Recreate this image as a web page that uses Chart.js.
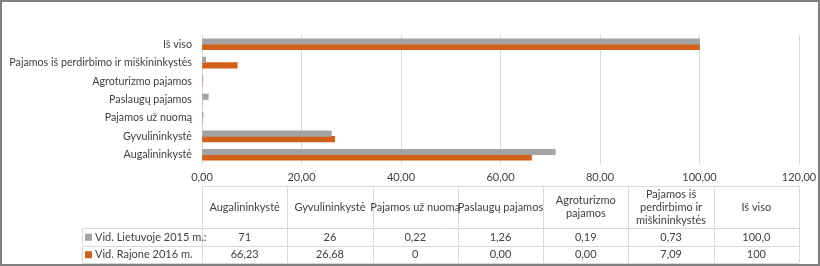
<!DOCTYPE html>
<html>
<head>
<meta charset="utf-8">
<script src="https://cdn.jsdelivr.net/npm/chart.js@4.4.1/dist/chart.umd.min.js"></script>
<style>
  body { margin: 0; background: #fff; }
  canvas { display: block; }
</style>
</head>
<body>
<canvas id="chart" width="820" height="266"></canvas>
<script>
// Kategorijos (pirmoji apačioje, kaip Excel)
const categories = ['Augalininkystė', 'Gyvulininkystė', 'Pajamos už nuomą', 'Paslaugų pajamos',
                    'Agroturizmo pajamos', 'Pajamos iš perdirbimo ir miškininkystės', 'Iš viso'];
// Lentelės antraštės (su eilučių laužymu)
const tableHeaders = ['Augalininkystė', 'Gyvulininkystė', 'Pajamos už nuomą', 'Paslaugų pajamos',
                      'Agroturizmo\npajamos', 'Pajamos iš\nperdirbimo ir\nmiškininkystės', 'Iš viso'];
const seriesNames = ['Vid. Lietuvoje 2015 m.:', 'Vid. Rajone 2016 m.'];
// Reikšmės taip, kaip parašyta lentelėje
const lietuvaLabels = ['71', '26', '0,22', '1,26', '0,19', '0,73', '100,0'];
const rajonasLabels = ['66,23', '26,68', '0', '0,00', '0,00', '7,09', '100'];
const xTicks = [0, 20, 40, 60, 80, 100, 120];
const colors = ['#A3A3A3', '#D2601A'];

const toNum = s => parseFloat(s.replace(',', '.'));
const FONT = 'Lato, "Open Sans", sans-serif';
const TEXT = '#404040';

// Duomenų lentelė po grafiku
const dataTablePlugin = {
    id: 'dataTable',
    beforeDraw(chart) {
        const c = chart.ctx;
        c.save();
        c.fillStyle = '#fff';
        c.fillRect(0, 0, chart.width, chart.height);
        c.restore();
    },
    afterDraw(chart) {
        const c = chart.ctx;
        const area = chart.chartArea;
        const colW = (area.right - area.left) / categories.length;
        const top = 186, headBottom = 228, rowH = 17.5;
        const legendLeft = 82;
        const rows = [lietuvaLabels, rajonasLabels];
        const bottom = headBottom + rowH * rows.length;

        c.save();
        c.strokeStyle = '#D9D9D9';
        c.lineWidth = 1;
        c.beginPath();
        // horizontalios linijos
        c.moveTo(area.left, top + 0.5); c.lineTo(area.right, top + 0.5);
        for (let r = 0; r <= rows.length; r++) {
            const y = Math.round(headBottom + rowH * r) + 0.5;
            c.moveTo(legendLeft, y); c.lineTo(area.right, y);
        }
        // vertikalios linijos
        c.moveTo(legendLeft + 0.5, headBottom); c.lineTo(legendLeft + 0.5, bottom);
        for (let i = 0; i <= categories.length; i++) {
            const x = Math.round(area.left + colW * i) + 0.5;
            c.moveTo(x, top); c.lineTo(x, bottom);
        }
        c.stroke();

        c.fillStyle = TEXT;
        c.font = '11px ' + FONT;
        c.textAlign = 'center';
        c.textBaseline = 'middle';
        tableHeaders.forEach((h, i) => {
            const lines = h.split('\n');
            const cx = area.left + colW * (i + 0.5);
            const cy = (top + headBottom) / 2;
            const lh = 13;
            lines.forEach((ln, k) => {
                c.fillText(ln, cx, cy + (k - (lines.length - 1) / 2) * lh);
            });
        });
        rows.forEach((row, r) => {
            const cy = headBottom + rowH * (r + 0.5) + 0.5;
            row.forEach((v, i) => {
                c.fillText(v, area.left + colW * (i + 0.5), cy);
            });
            c.fillStyle = colors[r];
            c.fillRect(legendLeft + 3, cy - 3.5, 7, 7);
            c.fillStyle = TEXT;
            c.textAlign = 'left';
            c.fillText(seriesNames[r], legendLeft + 13, cy);
            c.textAlign = 'center';
        });

        // rėmelis
        c.strokeStyle = '#808080';
        c.lineWidth = 2;
        c.strokeRect(1, 1, chart.width - 2, chart.height - 2);
        c.restore();
    }
};

const ctx = document.getElementById('chart').getContext('2d');
new Chart(ctx, {
    type: 'bar',
    data: {
        labels: categories,
        datasets: [{
            label: seriesNames[0],
            data: lietuvaLabels.map(toNum),
            backgroundColor: colors[0],
            barThickness: 5.5
        }, {
            label: seriesNames[1],
            data: rajonasLabels.map(toNum),
            backgroundColor: colors[1],
            barThickness: 5.5
        }]
    },
    options: {
        indexAxis: 'y',
        responsive: false,
        animation: false,
        layout: { padding: { top: 35, right: 21, left: 0, bottom: 0 } },
        plugins: { legend: { display: false }, tooltip: { enabled: false } },
        scales: {
            x: {
                min: 0,
                max: 120,
                afterBuildTicks: s => { s.ticks = xTicks.map(v => ({ value: v })); },
                afterFit: s => {
                    s.height = 266 - 35 - 129;
                    s.paddingLeft = 0;
                    s.paddingRight = 0;
                },
                ticks: {
                    color: TEXT,
                    font: { family: FONT, size: 11 },
                    padding: 7,
                    maxRotation: 0,
                    callback: v => v.toFixed(2).replace('.', ',')
                },
                grid: { color: '#D9D9D9', drawTicks: false },
                border: { display: false }
            },
            y: {
                reverse: true,
                afterFit: s => { s.width = 202; },
                ticks: {
                    color: TEXT,
                    font: { family: FONT, size: 10.7 },
                    padding: 10
                },
                grid: { display: false, drawTicks: false },
                border: { display: false }
            }
        }
    },
    plugins: [dataTablePlugin]
});
</script>
</body>
</html>
